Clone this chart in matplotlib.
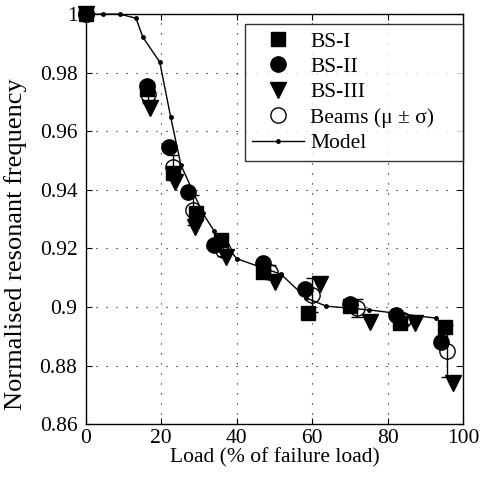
import matplotlib
matplotlib.use("Agg")
import matplotlib.pyplot as plt
from matplotlib.ticker import FormatStrFormatter

plt.rcParams["font.family"] = ["Liberation Serif", "DejaVu Serif"]

# values
bs1_x = [0, 16.3, 23.1, 29.2, 35.8, 47.0, 58.9, 70.0, 83.3, 95.2]
bs1_y = [1.0, 0.9745, 0.9457, 0.932, 0.9229, 0.912, 0.898, 0.9005, 0.8945, 0.8932]

bs2_x = [0, 16.1, 22.0, 27.1, 34.0, 47.0, 58.1, 70.0, 82.2, 94.2]
bs2_y = [1.0, 0.9754, 0.9546, 0.9393, 0.9212, 0.915, 0.9061, 0.901, 0.8973, 0.888]

bs3_x = [0, 17.0, 23.6, 28.9, 37.2, 50.1, 62.1, 75.3, 87.3, 97.3]
bs3_y = [1.0, 0.968, 0.9427, 0.9273, 0.917, 0.9085, 0.908, 0.8949, 0.8945, 0.874]

beam_x = [0, 16.4, 23.1, 28.4, 36.3, 48.8, 60.0, 71.9, 84.1, 95.7]
beam_y = [1.0, 0.9728, 0.9478, 0.9331, 0.9195, 0.912, 0.904, 0.8996, 0.8956, 0.885]
beam_sd = [0, 0.003, 0.004, 0.005, 0.002, 0.0025, 0.0058, 0.003, 0.0013, 0.009]

model_x = [0, 4.5, 9.0, 13.3, 15.1, 19.6, 22.5, 25.2, 31.0, 34.0, 40.0,
           51.7, 58.4, 63.7, 75.1, 92.8]
model_y = [1.0, 1.0, 1.0, 0.9986, 0.9922, 0.9836, 0.9648, 0.9485, 0.932,
           0.926, 0.9165, 0.9112, 0.9031, 0.9003, 0.899, 0.8962]

fig = plt.figure(figsize=(4.82, 4.87), dpi=100)
ax = fig.add_axes([0.178, 0.129, 0.783, 0.842])

ax.plot(bs1_x, bs1_y, "s", color="black", ms=9.5, ls="none",
        label="BS-I", clip_on=False)
ax.plot(bs2_x, bs2_y, "o", color="black", ms=11, ls="none",
        label="BS-II", clip_on=False)
ax.plot(bs3_x, bs3_y, "v", color="black", ms=11, ls="none",
        label="BS-III", clip_on=False)
ax.errorbar(beam_x, beam_y, yerr=beam_sd, fmt="none", ecolor="black",
            elinewidth=1, capsize=4, capthick=1)
ax.plot(beam_x, beam_y, "o", mfc="none", mec="black", mew=1, ms=11,
        ls="none", label="Beams (μ ± σ)    ", clip_on=False)
ax.plot(model_x, model_y, "-", color="black", lw=1, marker=".", ms=5,
        label="Model", clip_on=False)

ax.set_xlim(0, 100)
ax.set_ylim(0.86, 1.0)
ax.set_xticks([0, 20, 40, 60, 80, 100])
ax.set_yticks([0.86, 0.88, 0.9, 0.92, 0.94, 0.96, 0.98, 1.0])
ax.yaxis.set_major_formatter(FormatStrFormatter("%g"))
ax.tick_params(direction="in", top=True, right=True, length=4,
               labelsize=15.5, width=0.8)
ax.tick_params(axis="y", pad=6)
ax.grid(True, color="black", linestyle=(0, (1, 8)), linewidth=0.8)
for s in ax.spines.values():
    s.set_linewidth(1)

ax.set_xlabel("Load (% of failure load)", fontsize=15.5, labelpad=0)
ax.set_ylabel("Normalised resonant frequency", fontsize=19)
ax.yaxis.set_label_coords(-0.155, 0.44)

leg = ax.legend(loc="upper right", bbox_to_anchor=(1.0, 0.976), numpoints=1,
                fontsize=15.5, frameon=True, fancybox=False, borderpad=0.35,
                labelspacing=0.25, handlelength=2.4, handletextpad=0.3,
                borderaxespad=0)
leg.get_frame().set_edgecolor("black")
leg.get_frame().set_linewidth(1)

fig.savefig("out.png", dpi=100)
